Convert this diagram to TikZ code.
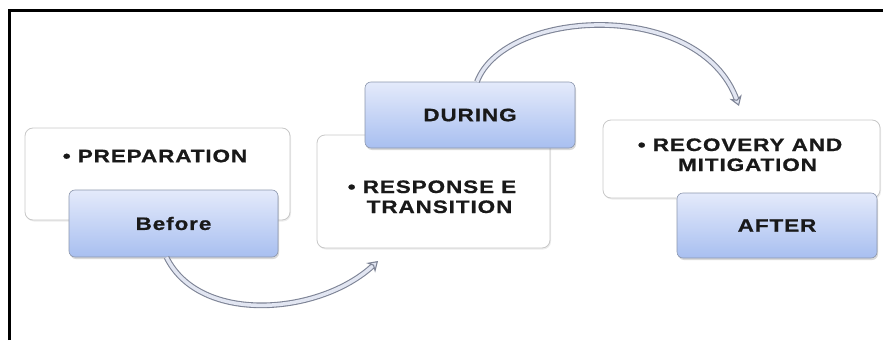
\documentclass[tikz,border=0pt]{standalone}
\usepackage{fontspec}
\setmainfont{Liberation Sans}[FakeStretch=1.25,LetterSpace=5,BoldFeatures={FakeBold=0.8}]
\usetikzlibrary{shadows,arrows.meta}
\definecolor{stagetop}{HTML}{E4EAFB}
\definecolor{stagebot}{HTML}{A8BFF0}
\definecolor{stageline}{HTML}{8C97AE}
\definecolor{noteline}{HTML}{C8C8C8}
\definecolor{flowout}{HTML}{7E8496}
\definecolor{flowin}{HTML}{E2E6F2}
\tikzset{
  note/.style={draw=noteline,fill=white,rounded corners=8pt,line width=0.8pt,
    drop shadow={opacity=0.15,shadow xshift=1pt,shadow yshift=-1.5pt}},
  stage/.style={draw=stageline,top color=stagetop,bottom color=stagebot,
    rounded corners=6pt,line width=0.6pt,text=black!90,
    font=\fontsize{18}{20}\selectfont\bfseries,
    drop shadow={opacity=0.3,shadow xshift=1pt,shadow yshift=-2pt}},
  notetext/.style={text=black!90,font=\fontsize{18}{20}\selectfont\bfseries},
  flow/.style={draw=flowout,double=flowin,double distance=3.5pt,line width=1.1pt,
    -{Stealth[length=10pt,width=13pt,fill=flowin]}}
}
\begin{document}
\begin{tikzpicture}[x=1pt,y=-1pt]
  \useasboundingbox (0,0) rectangle (883,340);
  \draw[line width=2.5pt] (9.5,340) -- (9.5,10.5) -- (883,10.5);
  % boxes
  \node[note,minimum width=265pt,minimum height=92pt] (prep) at (157.5,174) {};
  \node[notetext] (preptext) at (155,156) {• PREPARATION};
  \node[stage,minimum width=209pt,minimum height=67pt] (before) at (173.5,223.5) {Before};
  \node[note,minimum width=233pt,minimum height=113pt] (resp) at (433.5,191.5) {};
  \node[notetext] (resptext) at (432,199)
    {• \begin{tabular}[t]{@{}c@{}}RESPONSE E\\TRANSITION\end{tabular}};
  \node[stage,minimum width=210pt,minimum height=66pt] (during) at (470,115) {DURING};
  \node[note,minimum width=277pt,minimum height=78pt] (recov) at (741.5,159) {};
  \node[notetext] (recovtext) at (740,157)
    {• \begin{tabular}[t]{@{}c@{}}RECOVERY AND\\MITIGATION\end{tabular}};
  \node[stage,minimum width=200pt,minimum height=65pt] (after) at (777,225.5) {AFTER};
  % arrows
  \coordinate (tipA) at (378,261);
  \coordinate (tipB) at (739,106);
  \draw[flow] ([xshift=-7pt]before.south) .. controls (200,325) and (320,315) .. (tipA);
  \draw[flow] ([xshift=7pt]during.north) .. controls (505,8) and (700,-2) .. (tipB);
\end{tikzpicture}
\end{document}
